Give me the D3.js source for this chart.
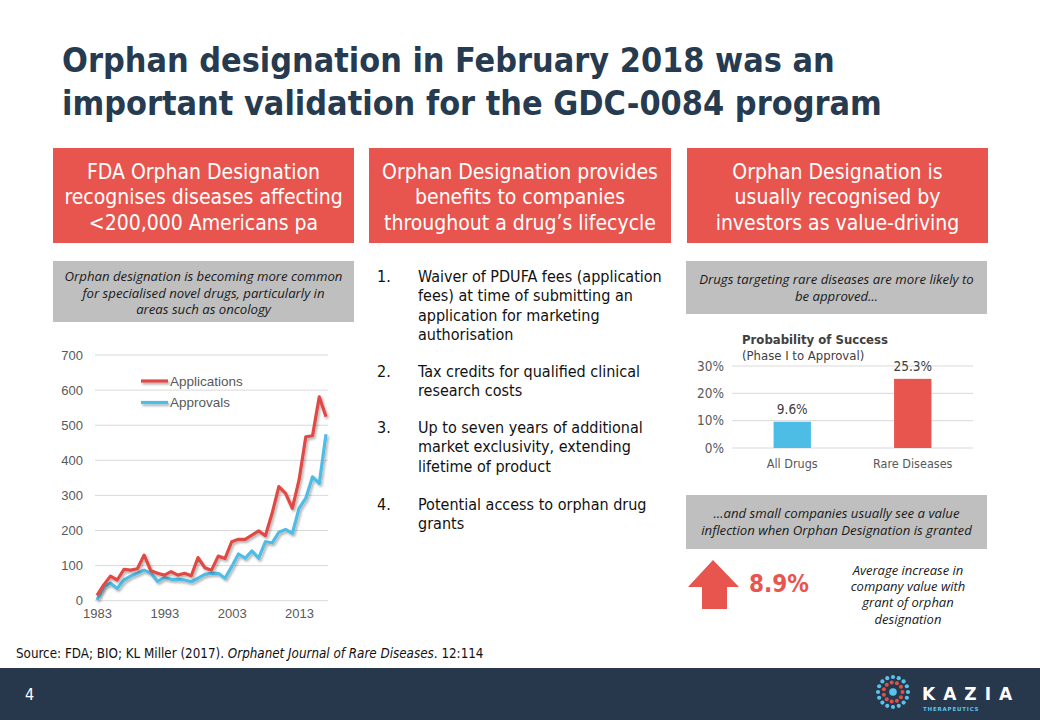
<!DOCTYPE html>
<html>
<head>
<meta charset="utf-8">
<script src="https://cdn.jsdelivr.net/npm/d3@7"></script>
<style>
  body { margin: 0; background: #fff; }
  svg { display: block; }
</style>
</head>
<body>
<svg width="1040" height="720"></svg>
<script>
// ---- data ----
var years = [1983,1984,1985,1986,1987,1988,1989,1990,1991,1992,1993,1994,1995,1996,1997,1998,1999,
  2000,2001,2002,2003,2004,2005,2006,2007,2008,2009,2010,2011,2012,2013,2014,2015,2016,2017];
var applications = [15,45,70,59,89,87,91,130,85,78,73,83,73,78,71,123,94,87,127,120,168,175,175,187,
  199,185,249,325,306,263,344,467,470,581,524];
var approvals = [2,40,50,35,59,70,78,87,78,55,66,61,61,59,54,64,75,78,78,64,97,133,121,142,121,168,
  165,195,203,192,263,292,353,334,474];
var yearTicks = [1983, 1993, 2003, 2013];
var countTicks = [0,100,200,300,400,500,600,700];
var seriesNames = ["Applications", "Approvals"];

var posCategories = ["All Drugs", "Rare Diseases"];
var posValues = [9.6, 25.3];
var posTicks = [0, 10, 20, 30];

var valueIncrease = "8.9%";

var red = "#e8554e", lineRed = "#e04a45", blue = "#4dbde6", navy = "#263a50", grey = "#bfbfbf";
var cond = "'DejaVu Sans Condensed', 'DejaVu Sans', sans-serif";

var svg = d3.select("svg");

// shadow for the lines (user space so flat legend lines keep it too)
var defs = svg.append("defs");
var f = defs.append("filter").attr("id", "shadow").attr("filterUnits", "userSpaceOnUse")
  .attr("x", 0).attr("y", 0).attr("width", 1040).attr("height", 720);
f.append("feDropShadow").attr("dx", 1.5).attr("dy", 2).attr("stdDeviation", 1.2)
  .attr("flood-color", "#000").attr("flood-opacity", 0.3);

// ---- title ----
var titleLines = ["Orphan designation in February 2018 was an",
  "important validation for the GDC-0084 program"];
var titleWidths = [773, 820];
titleLines.forEach(function (t, i) {
  var tx = svg.append("text")
    .attr("x", 62).attr("y", 72 + i * 43)
    .attr("font-family", cond).attr("font-stretch", "condensed")
    .attr("font-weight", "bold").attr("font-size", 33)
    .attr("fill", navy).text(t);
  var w = tx.node().getComputedTextLength();
  tx.attr("font-size", 33 * titleWidths[i] / w);
});

// ---- red header boxes ----
var headers = [
  { x: 53, w: 301, lines: ["FDA Orphan Designation", "recognises diseases affecting", "<200,000 Americans pa"] },
  { x: 369, w: 302, lines: ["Orphan Designation provides", "benefits to companies", "throughout a drug\u2019s lifecycle"] },
  { x: 687, w: 301, lines: ["Orphan Designation is", "usually recognised by", "investors as value-driving"] }
];
headers.forEach(function (h) {
  svg.append("rect").attr("x", h.x).attr("y", 148).attr("width", h.w).attr("height", 95).attr("fill", red);
  h.lines.forEach(function (l, i) {
    svg.append("text").attr("x", h.x + h.w / 2).attr("y", 178.5 + i * 25.5)
      .attr("text-anchor", "middle").attr("font-family", cond).attr("font-stretch", "condensed")
      .attr("font-size", 21).attr("fill", "#fff").text(l);
  });
});

// ---- grey notes ----
function greyBox(x, y, w, h, lines, base) {
  svg.append("rect").attr("x", x).attr("y", y).attr("width", w).attr("height", h).attr("fill", grey);
  lines.forEach(function (l, i) {
    svg.append("text").attr("x", x + w / 2).attr("y", base + i * 16.5)
      .attr("text-anchor", "middle").attr("font-family", "'Open Sans', sans-serif")
      .attr("font-style", "italic").attr("font-size", 13.2).attr("fill", "#1a1a1a").text(l);
  });
}
greyBox(53, 261, 301, 61, ["Orphan designation is becoming more common",
  "for specialised novel drugs, particularly in", "areas such as oncology"], 281);
greyBox(686, 261, 301, 53, ["Drugs targeting rare diseases are more likely to", "be approved\u2026"], 284);
greyBox(686, 495, 301, 54, ["\u2026and small companies usually see a value",
  "inflection when Orphan Designation is granted"], 518);

// ---- numbered list ----
var items = [
  { n: "1.", y: 282, lines: ["Waiver of PDUFA fees (application", "fees) at time of submitting an",
    "application for marketing", "authorisation"] },
  { n: "2.", y: 377, lines: ["Tax credits for qualified clinical", "research costs"] },
  { n: "3.", y: 433, lines: ["Up to seven years of additional", "market exclusivity, extending",
    "lifetime of product"] },
  { n: "4.", y: 510, lines: ["Potential access to orphan drug", "grants"] }
];
items.forEach(function (it) {
  svg.append("text").attr("x", 377).attr("y", it.y).attr("font-family", cond)
    .attr("font-stretch", "condensed").attr("font-size", 16).attr("fill", "#111").text(it.n);
  it.lines.forEach(function (l, i) {
    svg.append("text").attr("x", 418).attr("y", it.y + i * 19.3).attr("font-family", cond)
      .attr("font-stretch", "condensed").attr("font-size", 16).attr("fill", "#111").text(l);
  });
});

// ---- line chart ----
var x = d3.scaleLinear().domain([1983, 2017]).range([97, 326]);
var y = d3.scaleLinear().domain([0, 700]).range([600.7, 355]);

var lc = svg.append("g");
lc.append("g").selectAll("line").data(countTicks).enter().append("line")
  .attr("x1", 95).attr("x2", 328)
  .attr("y1", function (d) { return y(d); }).attr("y2", function (d) { return y(d); })
  .attr("stroke", "#d9d9d9").attr("stroke-width", 1);

var yAxis = lc.append("g").attr("transform", "translate(95,0)")
  .call(d3.axisLeft(y).tickValues(countTicks).tickSize(0).tickPadding(12));
var xAxis = lc.append("g").attr("transform", "translate(0,603)")
  .call(d3.axisBottom(x).tickValues(yearTicks).tickFormat(d3.format("d")).tickSize(0).tickPadding(6));
[yAxis, xAxis].forEach(function (a) {
  a.select(".domain").remove();
  a.selectAll("text").attr("font-family", "'Liberation Sans', Arial, sans-serif")
    .attr("font-size", 13).attr("fill", "#595959");
});

var line = d3.line()
  .x(function (d, i) { return x(years[i]); })
  .y(function (d) { return y(d); });
[[approvals, blue], [applications, lineRed]].forEach(function (s) {
  lc.append("path").datum(s[0]).attr("d", line).attr("fill", "none")
    .attr("stroke", s[1]).attr("stroke-width", 3.2).attr("stroke-linejoin", "round")
    .attr("filter", "url(#shadow)");
});

// legend
seriesNames.forEach(function (n, i) {
  var ly = 381 + i * 21.5;
  lc.append("line").attr("x1", 141).attr("x2", 168).attr("y1", ly).attr("y2", ly)
    .attr("stroke", i === 0 ? lineRed : blue).attr("stroke-width", 3.2).attr("filter", "url(#shadow)");
  lc.append("text").attr("x", 170).attr("y", ly + 4.5)
    .attr("font-family", "'Liberation Sans', Arial, sans-serif").attr("font-size", 13.5)
    .attr("fill", "#595959").text(n);
});

// ---- bar chart ----
var bx = d3.scaleBand().domain(posCategories).range([732, 973]).paddingInner(0.69).paddingOuter(0.345);
var by = d3.scaleLinear().domain([0, 30]).range([448, 366]);
var bc = svg.append("g");
bc.selectAll(".grid").data(posTicks).enter().append("line")
  .attr("x1", 732).attr("x2", 973)
  .attr("y1", function (d) { return by(d); }).attr("y2", function (d) { return by(d); })
  .attr("stroke", "#d9d9d9");
var bAxis = bc.append("g").attr("transform", "translate(732,0)")
  .call(d3.axisLeft(by).tickValues(posTicks).tickFormat(function (d) { return d + "%"; })
    .tickSize(0).tickPadding(8));
var cAxis = bc.append("g").attr("transform", "translate(0,450)")
  .call(d3.axisBottom(bx).tickSize(0).tickPadding(9));
[bAxis, cAxis].forEach(function (a) {
  a.select(".domain").remove();
  a.selectAll("text").attr("font-family", cond).attr("font-stretch", "condensed")
    .attr("font-size", 12.5).attr("fill", "#595959");
});
bAxis.selectAll("text").attr("font-size", 13.5);

bc.selectAll(".bar").data(posValues).enter().append("rect")
  .attr("x", function (d, i) { return bx(posCategories[i]); })
  .attr("y", function (d) { return by(d); })
  .attr("width", bx.bandwidth())
  .attr("height", function (d) { return by(0) - by(d); })
  .attr("fill", function (d, i) { return i === 0 ? blue : red; });
bc.selectAll(".lbl").data(posValues).enter().append("text")
  .attr("x", function (d, i) { return bx(posCategories[i]) + bx.bandwidth() / 2; })
  .attr("y", function (d) { return by(d) - 8; })
  .attr("text-anchor", "middle").attr("font-family", cond).attr("font-stretch", "condensed")
  .attr("font-size", 13.5).attr("fill", "#404040").text(function (d) { return d + "%"; });

bc.append("text").attr("x", 742).attr("y", 344).attr("font-family", cond)
  .attr("font-stretch", "condensed").attr("font-weight", "bold").attr("font-size", 13)
  .attr("fill", "#404040").text("Probability of Success");
bc.append("text").attr("x", 742).attr("y", 360).attr("font-family", cond)
  .attr("font-stretch", "condensed").attr("font-size", 13)
  .attr("fill", "#404040").text("(Phase I to Approval)");

// ---- value increase ----
svg.append("path")
  .attr("d", "M713,560 L739,587 L727,587 L727,609 L702,609 L702,587 L688,587 Z")
  .attr("fill", red);
svg.append("text").attr("x", 749).attr("y", 592).attr("font-family", cond)
  .attr("font-weight", "bold").attr("font-size", 24).attr("fill", red).text(valueIncrease);
["Average increase in", "company value with", "grant of orphan", "designation"].forEach(function (l, i) {
  svg.append("text").attr("x", 908).attr("y", 575 + i * 16.2).attr("text-anchor", "middle")
    .attr("font-family", "'Open Sans', sans-serif").attr("font-style", "italic")
    .attr("font-size", 13).attr("fill", "#1a1a1a").text(l);
});

// ---- source ----
var src = svg.append("text").attr("x", 16).attr("y", 658).attr("font-family", cond)
  .attr("font-stretch", "condensed").attr("font-size", 13.3).attr("fill", "#111");
src.append("tspan").text("Source: FDA; BIO; KL Miller (2017). ");
src.append("tspan").attr("font-style", "italic").text("Orphanet Journal of Rare Diseases");
src.append("tspan").text(". 12:114");

// ---- footer ----
svg.append("rect").attr("x", 0).attr("y", 668).attr("width", 1040).attr("height", 52).attr("fill", "#27384d");
svg.append("text").attr("x", 25).attr("y", 700).attr("font-family", cond)
  .attr("font-size", 16).attr("fill", "#fff").text("4");

// logo
var logo = svg.append("g").attr("transform", "translate(893,692)");
var rings = [{ r: 15, n: 16, c: "#5bc3ea", s: 2.1 }, { r: 9.5, n: 11, c: "#e0504a", s: 2 }];
rings.forEach(function (rg) {
  d3.range(rg.n).forEach(function (k) {
    var a = k / rg.n * 2 * Math.PI;
    logo.append("circle").attr("cx", rg.r * Math.cos(a)).attr("cy", rg.r * Math.sin(a))
      .attr("r", rg.s).attr("fill", rg.c);
  });
});
logo.append("circle").attr("r", 3.8).attr("fill", "#5bc3ea");
svg.append("text").attr("x", 922).attr("y", 700).attr("font-family", "'DejaVu Sans', sans-serif")
  .attr("font-weight", "bold").attr("font-size", 17).attr("letter-spacing", 8)
  .attr("fill", "#fff").text("KAZIA");
svg.append("text").attr("x", 923).attr("y", 711).attr("font-family", "'DejaVu Sans', sans-serif")
  .attr("font-weight", "bold").attr("font-size", 5.5).attr("letter-spacing", 0.8)
  .attr("fill", "#5bc3ea").text("THERAPEUTICS");
</script>
</body>
</html>
